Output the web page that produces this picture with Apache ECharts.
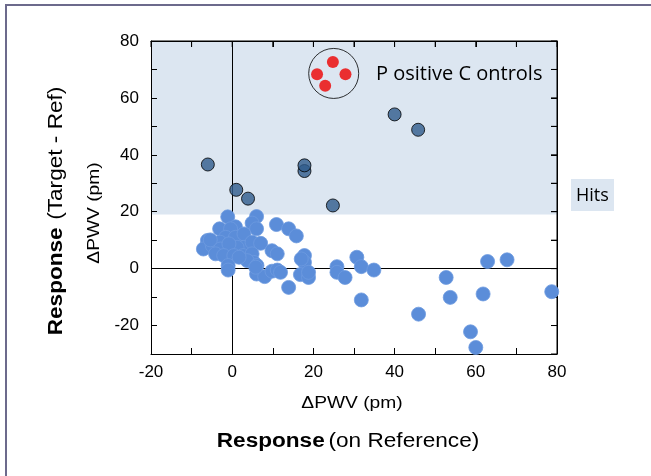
<!DOCTYPE html>
<html>
<head>
<meta charset="utf-8">
<script src="https://cdn.jsdelivr.net/npm/echarts@6/dist/echarts.min.js"></script>
<style>
    html, body { margin: 0; padding: 0; background: #fff; }
    #chart { width: 651px; height: 476px; }
</style>
</head>
<body>
<div id="chart"></div>
<script>
// values: [dPWV on reference, dPWV target - ref]
var positiveControls = [[24.8, 72.6], [20.9, 68.3], [27.9, 68.3], [22.9, 64.3]];
var controlsCircle = [[25, 68.6]];
var hits = [
    [-6.0, 36.6], [1.0, 27.7], [3.9, 24.6], [17.8, 34.3], [17.8, 36.3],
    [24.8, 22.2], [40.0, 54.2], [45.8, 48.8]
];
var nonHits = [
    [-1.1, 18.2], [6.0, 18.3], [4.9, 16.0], [10.9, 15.5], [13.9, 14.0], [15.8, 11.5],
    [-3.1, 14.0], [0.8, 14.7], [-0.4, 14.0], [6.0, 14.0], [-1.6, 11.0], [0.8, 11.0], [2.9, 12.2],
    [-6.1, 9.9], [-7.1, 6.9], [-4.9, 8.1], [-3.0, 9.3], [-5.4, 10.1], [-2.9, 6.9], [-0.4, 7.5],
    [2.9, 7.5], [4.9, 9.3], [7.0, 8.9], [1.2, 7.5], [-0.8, 8.7],
    [-4.1, 5.2], [-2.1, 4.6], [0.4, 4.6], [2.7, 4.6], [4.9, 5.2], [5.3, 2.2], [3.7, 2.8], [1.7, 4.0],
    [-1.0, 1.1], [-1.0, -0.5], [6.1, 1.1], [6.0, -1.9], [8.0, -2.8], [5.8, 0.5],
    [9.8, 6.3], [11.1, 5.2], [9.8, -0.9], [11.1, -0.5], [11.9, -1.3], [13.9, -6.6],
    [17.8, 4.6], [17.8, 2.2], [17.0, 3.4], [16.8, -2.1], [18.8, -3.1], [18.8, -1.3],
    [25.8, 0.7], [25.8, -1.3], [27.8, -3.1], [30.7, 4.0], [31.8, 0.7], [34.9, -0.5], [31.8, -11.0],
    [45.9, -16.0], [52.7, -3.1], [53.7, -10.1], [58.7, -22.2], [60.0, -27.7], [61.8, -8.9],
    [62.9, 2.5], [67.7, 3.1], [78.7, -8.1]
];
var hitThreshold = 19;
var xRange = [-20, 80];
var yRange = [-30, 80];
var xTicks = [-20, -10, 0, 10, 20, 30, 40, 50, 60, 70, 80];
var yTicks = [-30, -20, -10, 0, 10, 20, 30, 40, 50, 60, 70, 80];

var font = "'Liberation Sans', Arial, sans-serif";

function tickLabel(v) {
    return v % 20 === 0 ? String(v) : '';
}

function ax(pos, range, lab) {
    return {
        type: 'value', min: range[0], max: range[1], interval: 10, position: pos, z: 10,
        axisLine: { show: true, onZero: false, lineStyle: { color: '#000', width: 1 } },
        axisTick: { show: true, inside: true, length: 6, lineStyle: { color: '#000', width: 1 } },
        axisLabel: lab,
        splitLine: { show: false }
    };
}

function tickText(margin) {
    return { show: true, formatter: tickLabel, color: '#000', fontFamily: font, fontSize: 17, margin: margin };
}

// top and right edges of the box, with inward ticks
function renderFrame(params, api) {
    var lineStyle = { stroke: '#000', lineWidth: 1 };
    var tl = api.coord([xRange[0], yRange[1]]);
    var tr = api.coord([xRange[1], yRange[1]]);
    var br = api.coord([xRange[1], yRange[0]]);
    var children = [
        { type: 'line', shape: { x1: tl[0], y1: tl[1], x2: tr[0], y2: tr[1] }, style: lineStyle },
        { type: 'line', shape: { x1: tr[0], y1: tr[1], x2: br[0], y2: br[1] }, style: lineStyle }
    ];
    xTicks.forEach(function (v) {
        var p = api.coord([v, yRange[1]]);
        children.push({ type: 'line', shape: { x1: p[0], y1: p[1], x2: p[0], y2: p[1] + 6 }, style: lineStyle });
    });
    yTicks.forEach(function (v) {
        var p = api.coord([xRange[1], v]);
        children.push({ type: 'line', shape: { x1: p[0], y1: p[1], x2: p[0] - 6, y2: p[1] }, style: lineStyle });
    });
    return { type: 'group', children: children };
}

var titleRich = {
    b: { fontFamily: font, fontSize: 20, fontWeight: 'bold', fill: '#000' },
    n: { fontFamily: font, fontSize: 20, fill: '#000' }
};

var option = {
    animation: false,
    backgroundColor: '#fff',
    grid: { left: 151, right: 94, top: 41, bottom: 122 },
    xAxis: [
        ax('bottom', xRange, tickText(10)),
        ax('top', xRange, { show: false })
    ],
    yAxis: [
        ax('left', yRange, tickText(12)),
        ax('right', yRange, { show: false })
    ],
    graphic: [
        { type: 'rect', z: 20, shape: { x: 6, y: 5, width: 700, height: 500 }, style: { fill: 'none', stroke: '#6c6a8c', lineWidth: 2 }, silent: true },
        { type: 'rect', z: 20, shape: { x: 571, y: 179, width: 43, height: 32 }, style: { fill: '#dce6f1' }, silent: true },
        { type: 'text', z: 21, x: 576, y: 196, style: { text: 'Hits', fill: '#000', font: "18px 'Open Sans', sans-serif", verticalAlign: 'middle' } },
        { type: 'text', z: 21, x: 376, y: 74, style: { text: 'P ositive C ontrols', fill: '#000', font: "20px 'Open Sans', sans-serif", verticalAlign: 'middle' } },
        {
            type: 'text', z: 21, x: 95, y: 213, rotation: Math.PI / 2, scaleX: 1.2,
            style: { text: '\u0394PWV (pm)', fill: '#000', font: '16px ' + font, align: 'center', verticalAlign: 'middle' }
        },
        {
            type: 'text', z: 21, x: 56, y: 211, rotation: Math.PI / 2, scaleX: 1.13,
            style: { text: '{b|Response}  {n|(Target - Ref)}', align: 'center', verticalAlign: 'middle', rich: titleRich }
        },
        {
            type: 'text', z: 21, x: 352, y: 404, scaleX: 1.2,
            style: { text: '\u0394PWV (pm)', fill: '#000', font: '16px ' + font, align: 'center', verticalAlign: 'middle' }
        },
        {
            type: 'text', z: 21, x: 348, y: 441, scaleX: 1.13,
            style: { text: '{b|Response} {n|(on Reference)}', align: 'center', verticalAlign: 'middle', rich: titleRich }
        }
    ],
    series: [
        {
            name: 'Hit region',
            type: 'line',
            data: [[xRange[0], yRange[1]], [xRange[1], yRange[1]]],
            showSymbol: false,
            silent: true,
            z: 1,
            lineStyle: { width: 0 },
            areaStyle: { color: '#dce6f1', opacity: 1, origin: hitThreshold },
            markLine: {
                silent: true,
                symbol: 'none',
                label: { show: false },
                lineStyle: { color: '#000', width: 1, type: 'solid' },
                data: [{ xAxis: 0 }, { yAxis: 0 }]
            }
        },
        {
            name: 'Frame',
            type: 'custom',
            silent: true,
            clip: false,
            z: 10,
            data: [[xRange[1], yRange[1]]],
            renderItem: renderFrame
        },
        {
            name: 'Non-hits',
            type: 'scatter',
            symbolSize: 14,
            itemStyle: { color: '#5b8dd9', borderColor: '#6d9ae0', borderWidth: 0.8, opacity: 1 },
            data: nonHits,
            z: 11
        },
        {
            name: 'Hits',
            type: 'scatter',
            symbolSize: 13,
            itemStyle: { color: '#2f5b8c', borderColor: '#000', borderWidth: 1 },
            data: hits,
            z: 12
        },
        {
            name: 'Positive Controls',
            type: 'scatter',
            symbolSize: 12,
            itemStyle: { color: '#ee0000' },
            data: positiveControls,
            z: 12
        },
        {
            name: 'Controls circle',
            type: 'scatter',
            symbol: 'circle',
            symbolSize: 50,
            silent: true,
            itemStyle: { color: 'none', borderColor: '#000', borderWidth: 1 },
            data: controlsCircle,
            z: 12
        }
    ]
};

var chart = echarts.init(document.getElementById('chart'));
chart.setOption(option);
</script>
</body>
</html>
